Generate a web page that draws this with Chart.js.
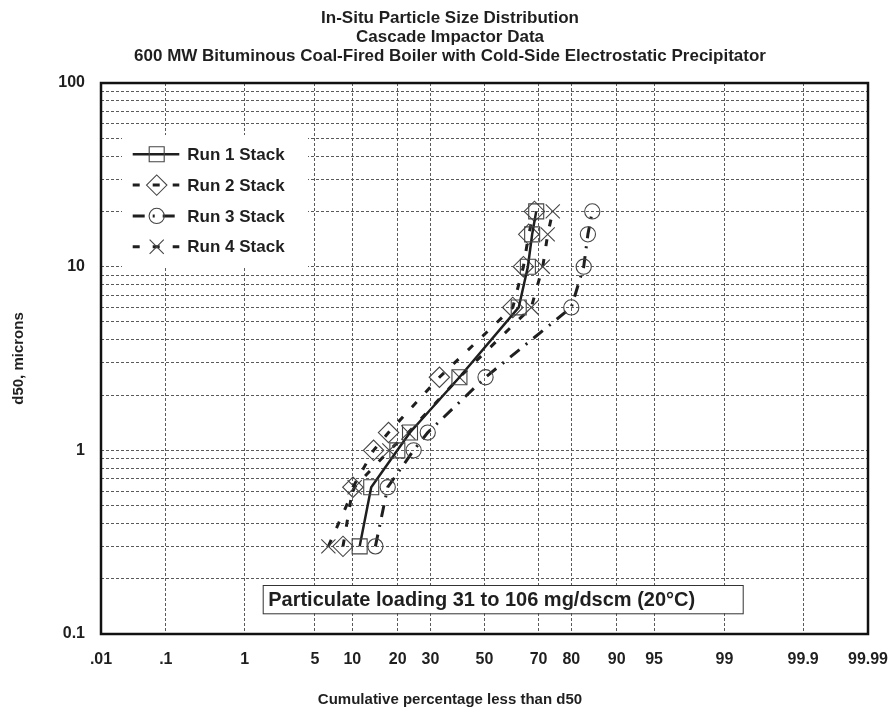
<!DOCTYPE html>
<html>
<head>
<meta charset="utf-8">
<script src="https://cdn.jsdelivr.net/npm/chart.js@4.4.1/dist/chart.umd.min.js"></script>
<style>
  html, body { margin: 0; padding: 0; background: #fff; }
  #wrap { width: 890px; height: 712px; }
</style>
</head>
<body>
<div id="wrap"><canvas id="grafico" width="890" height="712"></canvas></div>
<script>
// =========================
// DATOS
// =========================
const titleLines = [
  "In-Situ Particle Size Distribution",
  "Cascade Impactor Data",
  "600 MW Bituminous Coal-Fired Boiler with Cold-Side Electrostatic Precipitator"
];
const xAxisTitle = "Cumulative percentage less than d50";
const yAxisTitle = "d50, microns";
const noteText = "Particulate loading 31 to 106 mg/dscm (20\u00B0C)";

const runLabels = ["Run 1 Stack", "Run 2 Stack", "Run 3 Stack", "Run 4 Stack"];

// d50 (microns) for every impactor stage
const d50 = [0.3, 0.63, 1.0, 1.25, 2.5, 6, 10, 15, 20];
// cumulative % less than d50
const run1 = [11.3, 13.6, 19.9, 23.5, 40.4, 63.0, 66.3, 67.8, 69.2];
const run2 = [8.5, 10.1, 14.1, 17.6, 33.1, 60.8, 64.7, 66.6, 68.6];
const run3 = [14.5, 17.4, 24.6, 29.1, 50.4, 80.0, 83.2, 84.2, 85.2];
const run4 = [6.5, 10.4, 17.8, 23.0, 40.4, 67.5, 71.4, 73.0, 74.6];

const xTickValues = [0.01, 0.1, 1, 5, 10, 20, 30, 50, 70, 80, 90, 95, 99, 99.9, 99.99];
const xTickLabels = [".01", ".1", "1", "5", "10", "20", "30", "50", "70", "80", "90", "95", "99", "99.9", "99.99"];

const yDecades = [0.1, 1, 10];
const yMantissas = [1, 2, 3, 4, 5, 6, 7, 8, 9];
const yLabelValues = [0.1, 1, 10, 100];
const yLabelTexts = ["0.1", "1", "10", "100"];

// =========================
// ESCALA DE PROBABILIDAD
// =========================
function probit(p) {
  const a = [-39.69683028665376, 220.9460984245205, -275.9285104469687, 138.3577518672690, -30.66479806614716, 2.506628277459239];
  const b = [-54.47609879822406, 161.5858368580409, -155.6989798598866, 66.80131188771972, -13.28068155288572];
  const c = [-0.007784894002430293, -0.3223964580411365, -2.400758277161838, -2.549732539343734, 4.374664141464968, 2.938163982698783];
  const d = [0.007784695709041462, 0.3224671290700398, 2.445134137142996, 3.754408661907416];
  const pl = 0.02425;
  let q, r;
  if (p < pl) {
    q = Math.sqrt(-2 * Math.log(p));
    return (((((c[0]*q+c[1])*q+c[2])*q+c[3])*q+c[4])*q+c[5]) / ((((d[0]*q+d[1])*q+d[2])*q+d[3])*q+1);
  }
  if (p <= 1 - pl) {
    q = p - 0.5; r = q * q;
    return (((((a[0]*r+a[1])*r+a[2])*r+a[3])*r+a[4])*r+a[5])*q / (((((b[0]*r+b[1])*r+b[2])*r+b[3])*r+b[4])*r+1);
  }
  q = Math.sqrt(-2 * Math.log(1 - p));
  return -(((((c[0]*q+c[1])*q+c[2])*q+c[3])*q+c[4])*q+c[5]) / ((((d[0]*q+d[1])*q+d[2])*q+d[3])*q+1);
}

function normCdf(z) {
  const t = 1 / (1 + 0.3275911 * Math.abs(z) / Math.SQRT2);
  const y = 1 - (((((1.061405429*t - 1.453152027)*t) + 1.421413741)*t - 0.284496736)*t + 0.254829592)*t * Math.exp(-z*z/2);
  return z >= 0 ? 0.5 * (1 + y) : 0.5 * (1 - y);
}

class ProbabilityScale extends Chart.Scale {
  determineDataLimits() {
    this.min = this.options.min;
    this.max = this.options.max;
  }
  buildTicks() {
    return this.options.tickValues.map(v => ({ value: v }));
  }
  getLabelForValue(value) {
    return String(value);
  }
  configure() {
    super.configure();
    this._zMin = probit(this.min / 100);
    this._zMax = probit(this.max / 100);
  }
  getPixelForValue(value) {
    const z = probit(value / 100);
    return this.getPixelForDecimal((z - this._zMin) / (this._zMax - this._zMin));
  }
  getValueForPixel(pixel) {
    const z = this._zMin + this.getDecimalForPixel(pixel) * (this._zMax - this._zMin);
    return normCdf(z) * 100;
  }
  getPixelForTick(index) {
    return this.getPixelForValue(this.ticks[index].value);
  }
}
ProbabilityScale.id = "probability";
ProbabilityScale.defaults = {};
Chart.register(ProbabilityScale);

// =========================
// ESTILO
// =========================
const fontFam = "'Liberation Sans', Arial, sans-serif";
const ink = "#1f1f1f";
const gridColor = "#5a5a5a";

const yGridValues = [];
yDecades.forEach(dec => yMantissas.forEach(m => yGridValues.push(parseFloat((dec * m).toPrecision(6)))));
yGridValues.push(100);

const runStyles = [
  { pointStyle: "rect",     pointRadius: 10.6, borderWidth: 2.5, borderDash: [] },
  { pointStyle: "rectRot",  pointRadius: 10.2, borderWidth: 3,   borderDash: [7, 13] },
  { pointStyle: "circle",   pointRadius: 7.6,  borderWidth: 3,   borderDash: [12, 8, 2, 8] },
  { pointStyle: "crossRot", pointRadius: 10,   borderWidth: 3,   borderDash: [7, 13] }
];
const runs = [run1, run2, run3, run4];

const datasets = runs.map((serie, k) => ({
  label: runLabels[k],
  data: d50.map((y, i) => ({ x: serie[i], y: y })),
  borderColor: ink,
  borderWidth: runStyles[k].borderWidth,
  borderDash: runStyles[k].borderDash,
  tension: 0,
  fill: false,
  pointStyle: runStyles[k].pointStyle,
  pointRadius: runStyles[k].pointRadius,
  pointBorderColor: "#444",
  pointBorderWidth: 1.1,
  pointBackgroundColor: "rgba(0,0,0,0)"
}));

// =========================
// PLUGINS
// =========================
const legendBox = {
  id: "legendBox",
  beforeDatasetsDraw(chart) {
    const { ctx, chartArea: a } = chart;
    ctx.save();
    ctx.fillStyle = "#fff";
    ctx.fillRect(a.left + 21, a.top + 52, 186, 132);
    chart.data.datasets.forEach((ds, k) => {
      const y = a.top + 71.3 + k * 30.8;
      ctx.strokeStyle = ds.borderColor;
      ctx.lineWidth = ds.borderWidth;
      ctx.setLineDash(ds.borderDash);
      ctx.beginPath();
      ctx.moveTo(a.left + 31.7, y);
      ctx.lineTo(a.left + 78.3, y);
      ctx.stroke();
      ctx.setLineDash([]);
      ctx.strokeStyle = ds.pointBorderColor;
      ctx.lineWidth = ds.pointBorderWidth;
      ctx.fillStyle = "rgba(0,0,0,0)";
      Chart.helpers.drawPoint(ctx, {
        pointStyle: ds.pointStyle, radius: ds.pointRadius, rotation: 0, borderWidth: ds.pointBorderWidth
      }, a.left + 55.7, y);
      ctx.fillStyle = ink;
      ctx.font = "bold 17px " + fontFam;
      ctx.textAlign = "left";
      ctx.textBaseline = "middle";
      ctx.fillText(ds.label, a.left + 86.3, y + 1);
    });
    ctx.restore();
  }
};

const noteAndFrame = {
  id: "noteAndFrame",
  afterDatasetsDraw(chart) {
    const { ctx, chartArea: a } = chart;
    ctx.save();
    const bx = a.left + 161.7, by = a.bottom - 49, bw = 480, bh = 28.3;
    ctx.fillStyle = "#fff";
    ctx.fillRect(bx, by, bw, bh);
    ctx.strokeStyle = "#333";
    ctx.lineWidth = 1;
    ctx.strokeRect(bx + 0.5, by + 0.5, bw, bh);
    ctx.fillStyle = ink;
    ctx.font = "bold 20px " + fontFam;
    ctx.textAlign = "left";
    ctx.textBaseline = "middle";
    ctx.fillText(noteText, bx + 5.5, by + bh / 2 + 1);
    ctx.restore();
  },
  afterDraw(chart) {
    const { ctx, chartArea: a } = chart;
    ctx.save();
    ctx.strokeStyle = "#111";
    ctx.lineWidth = 2.5;
    ctx.strokeRect(a.left, a.top, a.right - a.left, a.bottom - a.top);
    ctx.restore();
  }
};

// =========================
// GRÁFICO
// =========================
const ctx = document.getElementById("grafico").getContext("2d");
const chart = new Chart(ctx, {
  type: "line",
  data: { datasets: datasets },
  options: {
    responsive: false,
    animation: false,
    devicePixelRatio: 1,
    layout: { padding: { left: 10, right: 0, top: 0, bottom: 0 } },
    scales: {
      x: {
        type: "probability",
        min: 0.01,
        max: 99.99,
        tickValues: xTickValues,
        afterFit: s => { s.height = 50; s.paddingRight = 22; },
        grid: { color: gridColor, lineWidth: 1, drawTicks: false },
        border: { display: false, dash: [3, 2] },
        ticks: {
          autoSkip: false, maxRotation: 0, padding: 16, color: ink,
          font: { family: fontFam, size: 16, weight: "bold" },
          callback: (v, i) => xTickLabels[i]
        }
      },
      y: {
        type: "logarithmic",
        min: 0.1,
        max: 100,
        afterBuildTicks: s => { s.ticks = yGridValues.map(v => ({ value: v })); },
        afterFit: s => { s.width = 91; },
        grid: { color: gridColor, lineWidth: 1, drawTicks: false },
        border: { display: false, dash: [3, 2] },
        ticks: {
          autoSkip: false, padding: 16, color: ink,
          font: { family: fontFam, size: 16, weight: "bold" },
          callback: v => {
            const k = yLabelValues.findIndex(t => Math.abs(t - v) < 1e-9);
            return k >= 0 ? yLabelTexts[k] : "";
          }
        },
        title: {
          display: true, text: yAxisTitle, color: ink, padding: 0,
          font: { family: fontFam, size: 15, weight: "bold" }
        }
      }
    },
    plugins: {
      legend: { display: false },
      tooltip: { enabled: false },
      title: {
        display: true, text: titleLines, color: ink,
        font: { family: fontFam, size: 17, weight: "bold", lineHeight: 1.12 },
        padding: { top: 8.5, bottom: 17.4 }
      },
      subtitle: {
        display: true, position: "bottom", text: xAxisTitle, color: ink,
        font: { family: fontFam, size: 15, weight: "bold" },
        padding: { top: 7, bottom: 3 }
      }
    }
  },
  plugins: [legendBox, noteAndFrame]
});
</script>
</body>
</html>
